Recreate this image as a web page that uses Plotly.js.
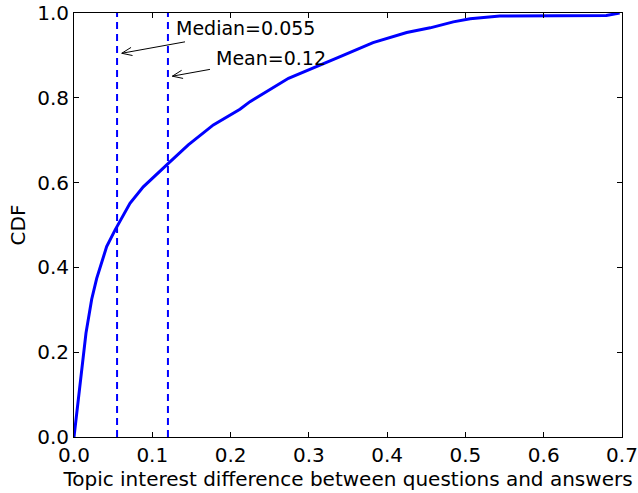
<!DOCTYPE html>
<html>
<head>
<meta charset="utf-8">
<script src="https://cdn.plot.ly/plotly-3.0.1.min.js"></script>
<style>html,body{margin:0;padding:0;background:#fff;}#chart{width:638px;height:493px;}</style>
</head>
<body>
<div id="chart"></div>
<script>
// CDF curve values
var cdfX = [0, 0.012, 0.0153, 0.0226, 0.029, 0.0417, 0.0524, 0.0715, 0.08, 0.0885, 0.1205, 0.146, 0.178, 0.212, 0.2248, 0.246, 0.274, 0.34, 0.382, 0.425, 0.455, 0.4845, 0.506, 0.544, 0.68, 0.697];
var cdfY = [0, 0.197, 0.245, 0.325, 0.374, 0.449, 0.488, 0.551, 0.571, 0.590, 0.6455, 0.689, 0.736, 0.773, 0.791, 0.814, 0.846, 0.897, 0.93, 0.954, 0.965, 0.979, 0.9866, 0.993, 0.994, 1.0];
var medianVal = 0.055;
var meanVal = 0.12;
var xTicks = [0, 0.1, 0.2, 0.3, 0.4, 0.5, 0.6, 0.7];
var yTicks = [0, 0.2, 0.4, 0.6, 0.8, 1.0];
// annotation arrow tips / tails and label anchors (data coordinates)
var medianArrowTip = [0.061, 0.905], medianArrowTail = [0.1418, 0.932], medianLabelPos = [0.128, 0.965];
var meanArrowTip = [0.1256, 0.851], meanArrowTail = [0.1737, 0.867], meanLabelPos = [0.179, 0.894];

var blue = '#0000ff';
var fontFam = 'DejaVu Sans, sans-serif';
var FS = 20;
var FSA = 19;

var traces = [
  {x: cdfX, y: cdfY, mode: 'lines', line: {color: blue, width: 3}, hoverinfo: 'skip'},
  {x: [medianVal, medianVal], y: [0, 1], mode: 'lines', line: {color: blue, width: 2, dash: '7px,5px'}, hoverinfo: 'skip'},
  {x: [meanVal, meanVal], y: [0, 1], mode: 'lines', line: {color: blue, width: 2, dash: '7px,5px'}, hoverinfo: 'skip'}
];

var marginL = 74, marginR = 16, marginT = 13, marginB = 56, W = 638, H = 493;
var xRange = [0, 0.7], yRange = [0, 1];
var sx = (W - marginL - marginR) / (xRange[1] - xRange[0]);
var sy = (H - marginT - marginB) / (yRange[1] - yRange[0]);

function arrowShapes(tip, tail) {
  var shapes = [];
  var ln = {color: '#000', width: 1};
  shapes.push({type: 'line', xref: 'x', yref: 'y', x0: tail[0], y0: tail[1], x1: tip[0], y1: tip[1], line: ln});
  var dx = (tail[0] - tip[0]) * sx, dy = (tail[1] - tip[1]) * sy;
  var L = Math.sqrt(dx * dx + dy * dy); dx /= L; dy /= L;
  var headLen = 11, ang = 22 * Math.PI / 180;
  [ang, -ang].forEach(function (a) {
    var rx = dx * Math.cos(a) - dy * Math.sin(a);
    var ry = dx * Math.sin(a) + dy * Math.cos(a);
    shapes.push({type: 'line', xref: 'x', yref: 'y', x0: tip[0], y0: tip[1],
      x1: tip[0] + rx * headLen / sx, y1: tip[1] + ry * headLen / sy, line: ln});
  });
  return shapes;
}

var axisCommon = {
  showline: true, linecolor: '#000', linewidth: 1, mirror: 'ticks',
  ticks: 'inside', ticklen: 5, tickwidth: 1, tickcolor: '#000',
  showgrid: false, zeroline: false, tickformat: '.1f',
  tickfont: {family: fontFam, size: FS, color: '#000'}
};

var layout = {
  width: W, height: H,
  margin: {l: marginL, r: marginR, t: marginT, b: marginB},
  paper_bgcolor: '#fff', plot_bgcolor: '#fff',
  showlegend: false,
  font: {family: fontFam, color: '#000'},
  xaxis: Object.assign({}, axisCommon, {
    range: xRange, tickvals: xTicks,
    title: {text: 'Topic interest difference between questions and answers', font: {family: fontFam, size: FS, color: '#000'}, standoff: 2}
  }),
  yaxis: Object.assign({}, axisCommon, {
    range: yRange, tickvals: yTicks,
    title: {text: 'CDF', font: {family: fontFam, size: FS, color: '#000'}, standoff: 6}
  }),
  shapes: arrowShapes(medianArrowTip, medianArrowTail).concat(arrowShapes(meanArrowTip, meanArrowTail)),
  annotations: [
    {x: medianLabelPos[0], y: medianLabelPos[1], xref: 'x', yref: 'y', xanchor: 'left', yanchor: 'middle', showarrow: false,
     text: 'Median=' + medianVal, font: {family: fontFam, size: FSA, color: '#000'}},
    {x: meanLabelPos[0], y: meanLabelPos[1], xref: 'x', yref: 'y', xanchor: 'left', yanchor: 'middle', showarrow: false,
     text: 'Mean=' + meanVal, font: {family: fontFam, size: FSA, color: '#000'}}
  ]
};

Plotly.newPlot('chart', traces, layout, {displayModeBar: false, staticPlot: true});
</script>
</body>
</html>
